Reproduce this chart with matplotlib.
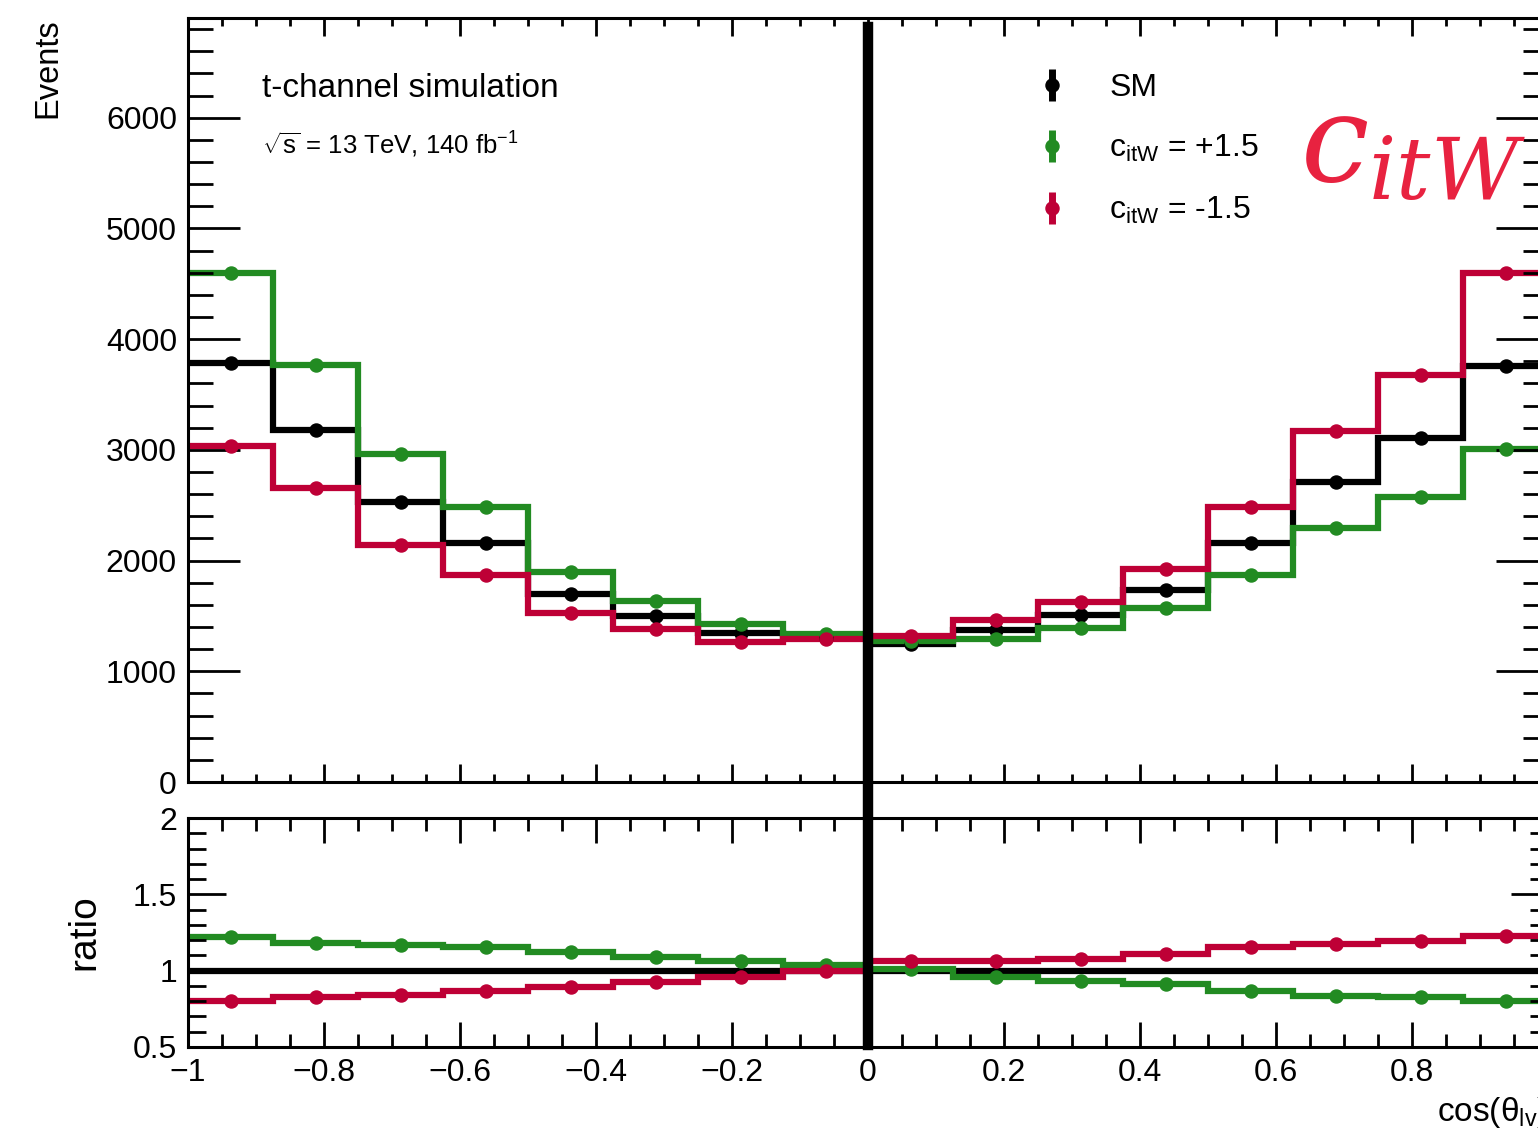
import numpy as np
import matplotlib
matplotlib.use("Agg")
import matplotlib.pyplot as plt
import matplotlib.transforms as mtransforms
from matplotlib.lines import Line2D
from matplotlib.ticker import MultipleLocator

plt.rcParams['font.family'] = ['Liberation Sans', 'DejaVu Sans']
plt.rcParams['mathtext.fontset'] = 'custom'
plt.rcParams['mathtext.rm'] = 'Liberation Sans'
plt.rcParams['mathtext.it'] = 'Liberation Sans:italic'
plt.rcParams['axes.unicode_minus'] = True

# binning of cos(theta)
edges = np.linspace(-1.0, 1.0, 17)

# event counts per bin
sm = [3780, 3180, 2530, 2155, 1695, 1500, 1345, 1300,
      1245, 1370, 1505, 1730, 2155, 2705, 3105, 3755]
c_plus = [4600, 3763, 2960, 2480, 1895, 1636, 1426, 1341,
          1270, 1296, 1387, 1567, 1868, 2292, 2572, 3005]
c_minus = [3032, 2653, 2138, 1868, 1525, 1378, 1266, 1288,
           1315, 1462, 1627, 1922, 2481, 3167, 3672, 4593]

# ratio to SM
ratio_sm = [1.0] * 16
ratio_plus = [1.218, 1.180, 1.171, 1.153, 1.120, 1.092, 1.061, 1.038,
              1.012, 0.957, 0.931, 0.910, 0.870, 0.837, 0.826, 0.800]
ratio_minus = [0.804, 0.825, 0.841, 0.869, 0.895, 0.924, 0.961, 0.996,
               1.061, 1.066, 1.077, 1.110, 1.153, 1.175, 1.192, 1.225]

labels = ['SM', r'c$_{\mathrm{itW}}$ = +1.5', r'c$_{\mathrm{itW}}$ = -1.5']
colors = ['black', '#228B22', '#BE0036']

centers = 0.5 * (edges[:-1] + edges[1:])

W, H = 1538, 1133
fig = plt.figure(figsize=(W / 100, H / 100), dpi=100)
ax1 = fig.add_axes([188 / W, 1 - 782 / H, 1360 / W, 764 / H])
ax2 = fig.add_axes([188 / W, 1 - 1047 / H, 1360 / W, 229 / H])

lw = 4.5
ms = 9.4
handles = []
for vals, col in zip([sm, c_plus, c_minus], colors):
    ax1.stairs(vals, edges, baseline=None, color=col, lw=lw)
    h = ax1.errorbar(centers, vals, yerr=np.zeros(len(vals)), fmt='o', color=col,
                     ms=ms, elinewidth=5, capsize=0)
    handles.append(h)

ax2.stairs(ratio_sm, edges, baseline=None, color='black', lw=lw)
for vals, col in zip([ratio_plus, ratio_minus], colors[1:]):
    ax2.stairs(vals, edges, baseline=None, color=col, lw=lw)
    ax2.plot(centers, vals, 'o', color=col, ms=ms)

ax1.set_xlim(-1, 1)
ax1.set_ylim(0, 6900)
ax2.set_xlim(-1, 1)
ax2.set_ylim(0.5, 2)

for ax in (ax1, ax2):
    for s in ax.spines.values():
        s.set_linewidth(2.2)
    ax.xaxis.set_major_locator(MultipleLocator(0.2))
    ax.xaxis.set_minor_locator(MultipleLocator(0.05))
    ax.tick_params(which='both', direction='in', top=True, right=True,
                   width=2.0, labelsize=23, pad=8)

ax1.yaxis.set_major_locator(MultipleLocator(1000))
ax1.yaxis.set_minor_locator(MultipleLocator(200))
ax1.tick_params(axis='y', which='major', length=37.5)
ax1.tick_params(axis='y', which='minor', length=18)
ax1.tick_params(axis='x', which='major', length=13)
ax1.tick_params(axis='x', which='minor', length=6)
ax1.tick_params(axis='x', labelbottom=False)

ax2.yaxis.set_major_locator(MultipleLocator(0.5))
ax2.yaxis.set_minor_locator(MultipleLocator(0.1))
ax2.set_yticks([0.5, 1, 1.5, 2], ['0.5', '1', '1.5', '2'])
ax2.tick_params(axis='y', which='major', length=27)
ax2.tick_params(axis='y', which='minor', length=13)
ax2.tick_params(axis='x', which='major', length=18)
ax2.tick_params(axis='x', which='minor', length=9.6)
ax2.set_xticks([-1, -0.8, -0.6, -0.4, -0.2, 0, 0.2, 0.4, 0.6, 0.8],
               ['\u22121', '\u22120.8', '\u22120.6', '\u22120.4', '\u22120.2',
                '0', '0.2', '0.4', '0.6', '0.8'])

# axis titles
fig.text(48 / W, 1 - 18 / H, 'Events', rotation=90, ha='center', va='top', fontsize=23.5)
fig.text(84 / W, 1 - 932 / H, 'ratio', rotation=90, ha='center', va='center', fontsize=28)
# the title runs past the right edge, as in the original
ax2.text(1.0, -(1121 - 1047) / 229, 'cos(\u03b8$_{\\mathrm{lv}}$)', transform=ax2.transAxes,
         ha='right', va='baseline', fontsize=24)

# labels inside the plot
fig.text(262 / W, 1 - 97 / H, 't-channel simulation', ha='left', va='baseline', fontsize=24)
fig.text(262 / W, 1 - 154 / H, r'$\sqrt{\mathrm{s}}$ = 13 TeV, 140 fb$^{-1}$',
         ha='left', va='baseline', fontsize=18.5)

ax1.legend(handles, labels, loc='upper left', bbox_to_anchor=(1036 / W, 1 - 73 / H),
           bbox_transform=fig.transFigure, frameon=False, fontsize=23,
           handlelength=1.0, handletextpad=1.3, labelspacing=0.95,
           borderpad=0, borderaxespad=0)

fig.text(1300 / W, 1 - 181 / H, r'$c_{itW}$', math_fontfamily='dejavuserif',
         color='#E82240', fontsize=88, ha='left', va='baseline')

# thick vertical line at cos = 0 across both panels
trans = mtransforms.blended_transform_factory(ax1.transData, fig.transFigure)
fig.add_artist(Line2D([0, 0], [1 - 27 / H, 1 - 1045 / H], color='black',
                      lw=7.5, transform=trans, zorder=10))

fig.savefig('out.png', dpi=100)
